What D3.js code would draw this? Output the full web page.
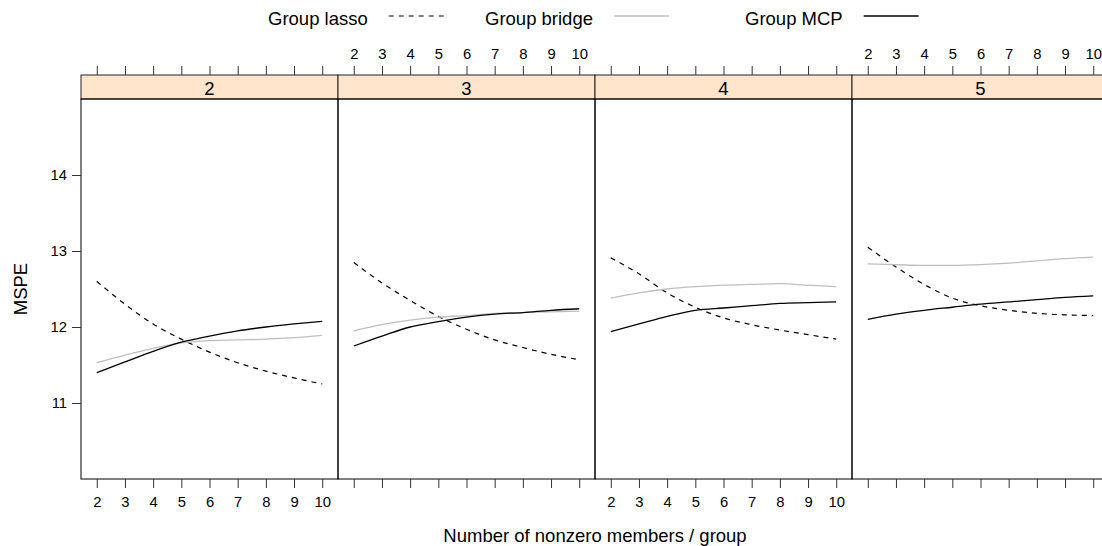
<!DOCTYPE html>
<html>
<head>
<meta charset="utf-8">
<script src="https://cdn.jsdelivr.net/npm/d3@7/dist/d3.min.js"></script>
<style>
  body { margin: 0; background: #fff; }
  svg { display: block; font-family: "Liberation Sans", Arial, Helvetica, sans-serif; }
</style>
</head>
<body>
<div id="chart"></div>
<script>
// panels = number of nonzero groups, x = members per group
var groups = ["2", "3", "4", "5"];
var members = [2, 3, 4, 5, 6, 7, 8, 9, 10];
var yTicks = [11, 12, 13, 14];

// MSPE, one row per panel
var lasso = [
  [12.60, 12.30, 12.04, 11.84, 11.67, 11.53, 11.42, 11.33, 11.25],
  [12.85, 12.58, 12.35, 12.14, 11.97, 11.83, 11.73, 11.64, 11.57],
  [12.91, 12.70, 12.45, 12.26, 12.12, 12.03, 11.96, 11.90, 11.84],
  [13.05, 12.79, 12.56, 12.38, 12.28, 12.22, 12.18, 12.16, 12.15]
];
var bridge = [
  [11.53, 11.63, 11.72, 11.79, 11.82, 11.83, 11.84, 11.86, 11.89],
  [11.95, 12.03, 12.09, 12.13, 12.15, 12.18, 12.19, 12.20, 12.21],
  [12.38, 12.45, 12.50, 12.53, 12.55, 12.56, 12.57, 12.55, 12.53],
  [12.83, 12.82, 12.81, 12.81, 12.82, 12.84, 12.87, 12.90, 12.92]
];
var mcp = [
  [11.40, 11.54, 11.68, 11.80, 11.88, 11.95, 12.00, 12.04, 12.075],
  [11.75, 11.88, 12.00, 12.07, 12.13, 12.17, 12.19, 12.22, 12.24],
  [11.94, 12.04, 12.14, 12.22, 12.25, 12.28, 12.31, 12.32, 12.33],
  [12.10, 12.17, 12.22, 12.26, 12.30, 12.33, 12.36, 12.39, 12.41]
];

var methods = [
  {name: "Group lasso",  data: lasso,  color: "#000", dash: "5,5", width: 1.2},
  {name: "Group bridge", data: bridge, color: "#bebebe", dash: null, width: 1.3},
  {name: "Group MCP",    data: mcp,    color: "#000", dash: null, width: 1.3}
];

var W = 1102, H = 546;
var base = 18.5, tickFont = 14.8;
var pTop = 99, pBottom = 479, stripTop = 75;

var svg = d3.select("#chart").append("svg")
  .attr("width", W).attr("height", H);

// panel x positions (last panel runs off the right edge like the original)
var panelX = d3.scaleBand().domain(groups).range([81, 1109]).padding(0);
var pw = panelX.bandwidth();

var y = d3.scaleLinear().domain([10, 15]).range([pBottom, pTop]);

var line = function (xs) {
  return d3.line()
    .x(function (d, i) { return xs(members[i]); })
    .y(function (d) { return y(d); })
    .curve(d3.curveMonotoneX);
};

svg.append("defs").selectAll("clipPath")
  .data(groups).enter().append("clipPath")
  .attr("id", function (d, i) { return "clip" + i; })
  .append("rect")
  .attr("x", function (d) { return panelX(d); })
  .attr("y", pTop)
  .attr("width", pw)
  .attr("height", pBottom - pTop);

groups.forEach(function (g, gi) {
  var x0 = panelX(g);
  var x = d3.scaleLinear().domain([1.44, 10.56]).range([x0, x0 + pw]);

  // strip
  svg.append("rect")
    .attr("x", x0).attr("y", stripTop)
    .attr("width", pw).attr("height", pTop - stripTop)
    .attr("fill", "#ffe5cc").attr("stroke", "#222").attr("stroke-width", 1);
  svg.append("text")
    .attr("x", x0 + pw / 2).attr("y", (stripTop + pTop) / 2 + 1)
    .attr("text-anchor", "middle").attr("dominant-baseline", "central")
    .attr("font-size", base).text(g);

  // lines
  var pg = svg.append("g").attr("clip-path", "url(#clip" + gi + ")");
  methods.forEach(function (m) {
    pg.append("path")
      .attr("d", line(x)(m.data[gi]))
      .attr("fill", "none")
      .attr("stroke", m.color)
      .attr("stroke-width", m.width)
      .attr("stroke-dasharray", m.dash);
  });

  // panel border
  svg.append("rect")
    .attr("x", x0).attr("y", pTop)
    .attr("width", pw).attr("height", pBottom - pTop)
    .attr("fill", "none").attr("stroke", "#000").attr("stroke-width", 1);

  // alternating axes: bottom labels on odd panels, top labels on even ones
  var labelsBottom = gi % 2 === 0;
  var bAxis = d3.axisBottom(x).tickValues(members).tickSize(9).tickPadding(8)
    .tickFormat(labelsBottom ? d3.format("d") : "");
  var tAxis = d3.axisTop(x).tickValues(members).tickSize(9).tickPadding(7)
    .tickFormat(labelsBottom ? "" : d3.format("d"));

  var gb = svg.append("g").attr("transform", "translate(0," + pBottom + ")").call(bAxis);
  var gt = svg.append("g").attr("transform", "translate(0," + stripTop + ")").call(tAxis);
  [gb, gt].forEach(function (a) {
    a.select(".domain").remove();
    a.selectAll("line").attr("stroke", "#333");
    a.selectAll("text").attr("font-size", tickFont).attr("fill", "#000")
      .attr("font-family", "Liberation Sans, Arial, sans-serif");
  });
});

// y axis on the left panel
var ya = svg.append("g").attr("transform", "translate(81,0)")
  .call(d3.axisLeft(y).tickValues(yTicks).tickFormat(d3.format("d"))
    .tickSize(9).tickPadding(5));
ya.select(".domain").remove();
ya.selectAll("line").attr("stroke", "#333");
ya.selectAll("text").attr("font-size", tickFont).attr("fill", "#000")
  .attr("font-family", "Liberation Sans, Arial, sans-serif");

// titles
svg.append("text")
  .attr("transform", "translate(20," + ((pTop + pBottom) / 2) + ") rotate(-90)")
  .attr("text-anchor", "middle").attr("dominant-baseline", "central")
  .attr("font-size", base).text("MSPE");

svg.append("text")
  .attr("x", 595).attr("y", 535)
  .attr("text-anchor", "middle").attr("dominant-baseline", "central")
  .attr("font-size", base).text("Number of nonzero members / group");

// legend on top
var legendX = [268, 485, 745];
var key = svg.append("g");
methods.forEach(function (m, i) {
  var t = key.append("text")
    .attr("x", legendX[i]).attr("y", 18)
    .attr("dominant-baseline", "central")
    .attr("font-size", base).text(m.name);
  var tw = t.node().getComputedTextLength();
  var lx = legendX[i] + tw + 21;
  key.append("line")
    .attr("x1", lx).attr("x2", lx + 55)
    .attr("y1", 16).attr("y2", 16)
    .attr("stroke", m.color)
    .attr("stroke-width", m.width)
    .attr("stroke-dasharray", m.dash);
});
</script>
</body>
</html>
